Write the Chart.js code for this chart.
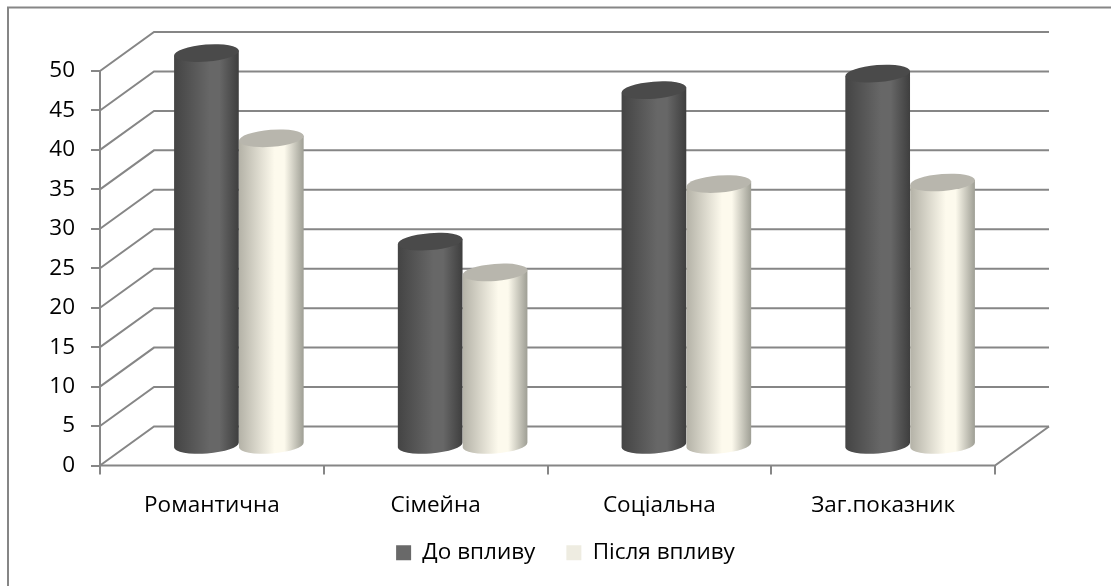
<!DOCTYPE html>
<html lang="uk">

<head>
    <meta charset="UTF-8">
    <title>До і після впливу</title>
    <script src="https://cdn.jsdelivr.net/npm/chart.js"></script>
    <style>
        body { margin: 0; background: #fff; }
        canvas { display: block; }
    </style>
</head>

<body>
    <canvas id="grafico" width="1111" height="586"></canvas>

    <script>
        const categorias = ['Романтична', 'Сімейна', 'Соціальна', 'Заг.показник'];
        const doVplyvu = [49.8, 25.9, 45.1, 47.2];
        const pislyaVplyvu = [39.0, 22.0, 33.2, 33.4];

        const rotuloDo = 'До впливу';
        const rotuloPislya = 'Після впливу';
        const maxY = 50;
        const passoY = 5;

        // depth of the 3D box: back wall offset from the front plane
        const fundoX = 54;
        const fundoY = -39;
        const corGrade = '#868686';

        const coresCilindro = [
            { topo: '#4a4a4a', faixa: ['#444444', '#676767', '#3e3e3e'] },
            { topo: '#b8b6ad', faixa: ['#b4b2a7', '#fdfaed', '#9e9e94'] }
        ];

        function linha(ctx, pontos) {
            ctx.beginPath();
            ctx.moveTo(pontos[0][0], pontos[0][1]);
            for (let i = 1; i < pontos.length; i++) {
                ctx.lineTo(pontos[i][0], pontos[i][1]);
            }
            ctx.stroke();
        }

        // one cylinder standing halfway through the box depth
        function desenharCilindro(ctx, barra, cores) {
            const cx = barra.x + fundoX / 2;
            const rx = barra.width / 2;
            const ry = 8.5;
            const giro = -4.5 * Math.PI / 180;
            const topo = barra.y + fundoY / 2;
            const base = barra.base + fundoY / 2;
            const dx = rx * Math.cos(giro);
            const dy = rx * Math.sin(giro);

            const grad = ctx.createLinearGradient(cx - rx, 0, cx + rx, 0);
            grad.addColorStop(0, cores.faixa[0]);
            grad.addColorStop(0.55, cores.faixa[1]);
            grad.addColorStop(0.7, cores.faixa[1]);
            grad.addColorStop(1, cores.faixa[2]);

            ctx.beginPath();
            ctx.ellipse(cx, base, rx, ry, giro, 0, Math.PI);
            ctx.lineTo(cx - dx, topo - dy);
            ctx.lineTo(cx + dx, topo + dy);
            ctx.closePath();
            ctx.fillStyle = grad;
            ctx.fill();

            ctx.beginPath();
            ctx.ellipse(cx, topo, rx, ry, giro, 0, Math.PI * 2);
            ctx.fillStyle = cores.topo;
            ctx.fill();
        }

        const caixa3d = {
            id: 'caixa3d',
            afterLayout(chart) {
                // legend sits a bit right of the plot centre and overlaps the axis box
                chart.legend.left += 48;
                chart.legend.right += 48;
                chart.legend.top -= 10;
                chart.legend.bottom -= 10;
            },
            beforeDraw(chart) {
                // frame runs along the top and left edges only
                const ctx = chart.ctx;
                ctx.save();
                ctx.strokeStyle = corGrade;
                ctx.lineWidth = 2;
                linha(ctx, [[1111, 7.5], [8, 7.5], [8, 586]]);
                ctx.restore();
            },
            beforeDatasetsDraw(chart) {
                const ctx = chart.ctx;
                const { left, right, bottom, top } = chart.chartArea;
                const y = chart.scales.y;
                ctx.save();
                ctx.strokeStyle = corGrade;
                ctx.lineWidth = 2;
                y.ticks.forEach(function (t) {
                    const py = y.getPixelForValue(t.value);
                    linha(ctx, [[left, py], [left + fundoX, py + fundoY], [right + fundoX, py + fundoY]]);
                });
                // floor edge and the front vertical axis
                linha(ctx, [[left, bottom], [right, bottom], [right + fundoX, bottom + fundoY]]);
                linha(ctx, [[left, top], [left, bottom]]);
                ctx.restore();
            },
            beforeDatasetDraw() {
                return false;
            },
            afterDatasetsDraw(chart) {
                const ctx = chart.ctx;
                ctx.save();
                chart.data.datasets.forEach(function (ds, i) {
                    chart.getDatasetMeta(i).data.forEach(function (barra) {
                        desenharCilindro(ctx, barra, coresCilindro[i]);
                    });
                });
                ctx.restore();
            }
        };

        Chart.defaults.font.family = '"Open Sans"';
        Chart.defaults.font.size = 22.5;
        Chart.defaults.color = '#000';

        new Chart(document.getElementById('grafico'), {
            type: 'bar',
            data: {
                labels: categorias,
                datasets: [
                    { label: rotuloDo, data: doVplyvu, backgroundColor: '#696969', borderWidth: 0 },
                    { label: rotuloPislya, data: pislyaVplyvu, backgroundColor: '#eeece1', borderWidth: 0 }
                ]
            },
            plugins: [caixa3d],
            options: {
                responsive: false,
                animation: false,
                categoryPercentage: 0.58,
                barPercentage: 1,
                layout: { padding: { left: 40, top: 71, right: 116, bottom: 2 } },
                plugins: {
                    title: { display: false },
                    tooltip: { enabled: false },
                    legend: {
                        position: 'bottom',
                        labels: { boxWidth: 15, boxHeight: 15, padding: 31 }
                    }
                },
                scales: {
                    x: {
                        grid: { drawOnChartArea: false, drawTicks: true, tickLength: 9, color: corGrade, lineWidth: 2 },
                        border: { display: false },
                        ticks: { padding: 18, maxRotation: 0 },
                        afterFit(escala) { escala.height = 55; }
                    },
                    y: {
                        min: 0,
                        max: maxY,
                        grid: { drawOnChartArea: false, drawTicks: true, tickLength: 9, color: corGrade, lineWidth: 2 },
                        border: { display: false },
                        ticks: { stepSize: passoY, padding: 16 },
                        afterFit(escala) { escala.width = 60; }
                    }
                }
            }
        });
    </script>
</body>

</html>
